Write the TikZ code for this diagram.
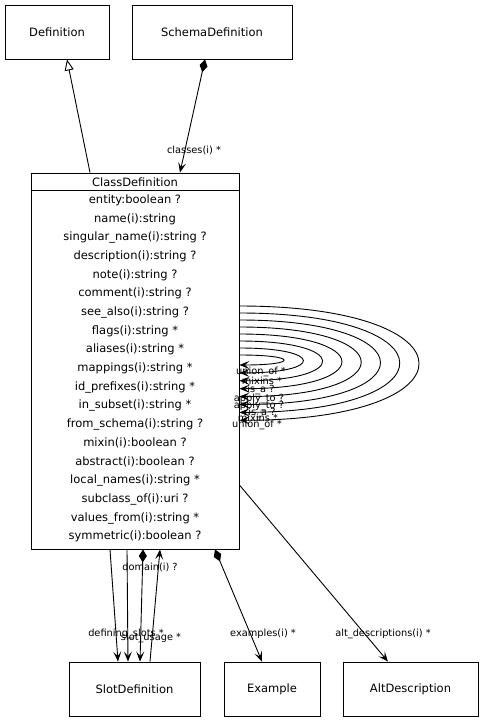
\documentclass[tikz,border=0pt]{standalone}
\usepackage{fontspec}
\setmainfont{DejaVu Sans}
\usetikzlibrary{arrows.meta}

\tikzset{
  classbox/.style={draw, minimum width=#1, minimum height=54pt, inner sep=0pt, font=\fontsize{11.5}{13}\selectfont},
  attr/.style={inner sep=0pt, font=\fontsize{11.5}{13}\selectfont},
  role/.style={inner sep=0pt, font=\fontsize{9.8}{11}\selectfont},
  assoc/.style={-{Stealth[length=10pt,width=8pt,inset=4.5pt]}},
  comp/.style={{Diamond[length=13pt,width=8pt]}-{Stealth[length=10pt,width=8pt,inset=4.5pt]}},
  inherit/.style={-{Triangle[open,length=11pt,width=9pt,fill=white]}}
}

\begin{document}
\begin{tikzpicture}[x=1pt,y=-1pt,line width=0.9pt]
\useasboundingbox[fill=white] (0,0) rectangle (484,723);

% top row
\node[classbox=104pt] (def) at (57,32) {Definition};
\node[classbox=160pt] (schema) at (212,32) {SchemaDefinition};

% the class with its slots
\node[draw, minimum width=208pt, minimum height=376pt, inner sep=0pt] (cls) at (135,361) {};
\node[attr] (clsname) at (135,182) {ClassDefinition};
\draw ([yshift=-18pt]cls.north west) -- ([yshift=-18pt]cls.north east);
\foreach \a [count=\i] in {entity:boolean ?, name(i):string, singular\_name(i):string ?,
  description(i):string ?, note(i):string ?, comment(i):string ?, see\_also(i):string ?,
  flags(i):string *, aliases(i):string *, mappings(i):string *, id\_prefixes(i):string *,
  in\_subset(i):string *, from\_schema(i):string ?, mixin(i):boolean ?, abstract(i):boolean ?,
  local\_names(i):string *, subclass\_of(i):uri ?, values\_from(i):string *, symmetric(i):boolean ?}
  \node[attr] (slot\i) at (135,{181.5+18.7*\i}) {\a};

% bottom row
\node[classbox=131pt] (slot) at (134.5,689) {SlotDefinition};
\node[classbox=96pt] (example) at (272,689) {Example};
\node[classbox=135pt] (alt) at (410.5,689) {AltDescription};

% upper links
\draw[inherit] ([xshift=-45pt]cls.north) -- ([xshift=10pt]def.south);
\draw[comp] ([xshift=-7pt]schema.south) -- ([xshift=45pt]cls.north);
\node[role] (classes) at (194,150) {classes(i) *};

% self links
\foreach \i in {0,...,7} {
  \pgfmathsetmacro\s{6+7*\i}
  \pgfmathsetmacro\e{4+7.9*\i}
  \pgfmathsetmacro\d{58.7+25.7*\i}
  \draw[assoc] ([yshift=\s pt]cls.east) .. controls +(\d,0) and +(\d,0) .. ([yshift=-\e pt]cls.east);
}
\foreach \t/\x/\y [count=\i] in {union\_of */261/372, mixins */262/381, is\_a ?/261/390,
  apply\_to ?/259/399, apply\_to ?/259/406, is\_a ?/262/413, mixins */258/418, union\_of */257/425}
  \node[role] (self\i) at (\x,\y) {\t};

% lower links
\draw[assoc] ([xshift=-25pt]cls.south) -- ([xshift=-16.5pt]slot.north);
\draw[assoc] ([xshift=-8pt]cls.south) -- ([xshift=-6.5pt]slot.north);
\draw[comp] ([xshift=8pt]cls.south) -- ([xshift=5.5pt]slot.north);
\draw[assoc] ([xshift=15.5pt]slot.north) -- ([xshift=25pt]cls.south);
\draw[comp] ([xshift=80pt]cls.south) -- ([xshift=-10pt]example.north);
\draw[assoc] ([yshift=-124pt]cls.east) -- ([xshift=-22.5pt]alt.north);
\node[role] (domain) at (150,567) {domain(i) ?};
\node[role] (defslots) at (126,634) {defining\_slots *};
\node[role] (usage) at (151,638) {slot\_usage *};
\node[role] (examples) at (263,634) {examples(i) *};
\node[role] (altdesc) at (383,634) {alt\_descriptions(i) *};
\end{tikzpicture}
\end{document}
